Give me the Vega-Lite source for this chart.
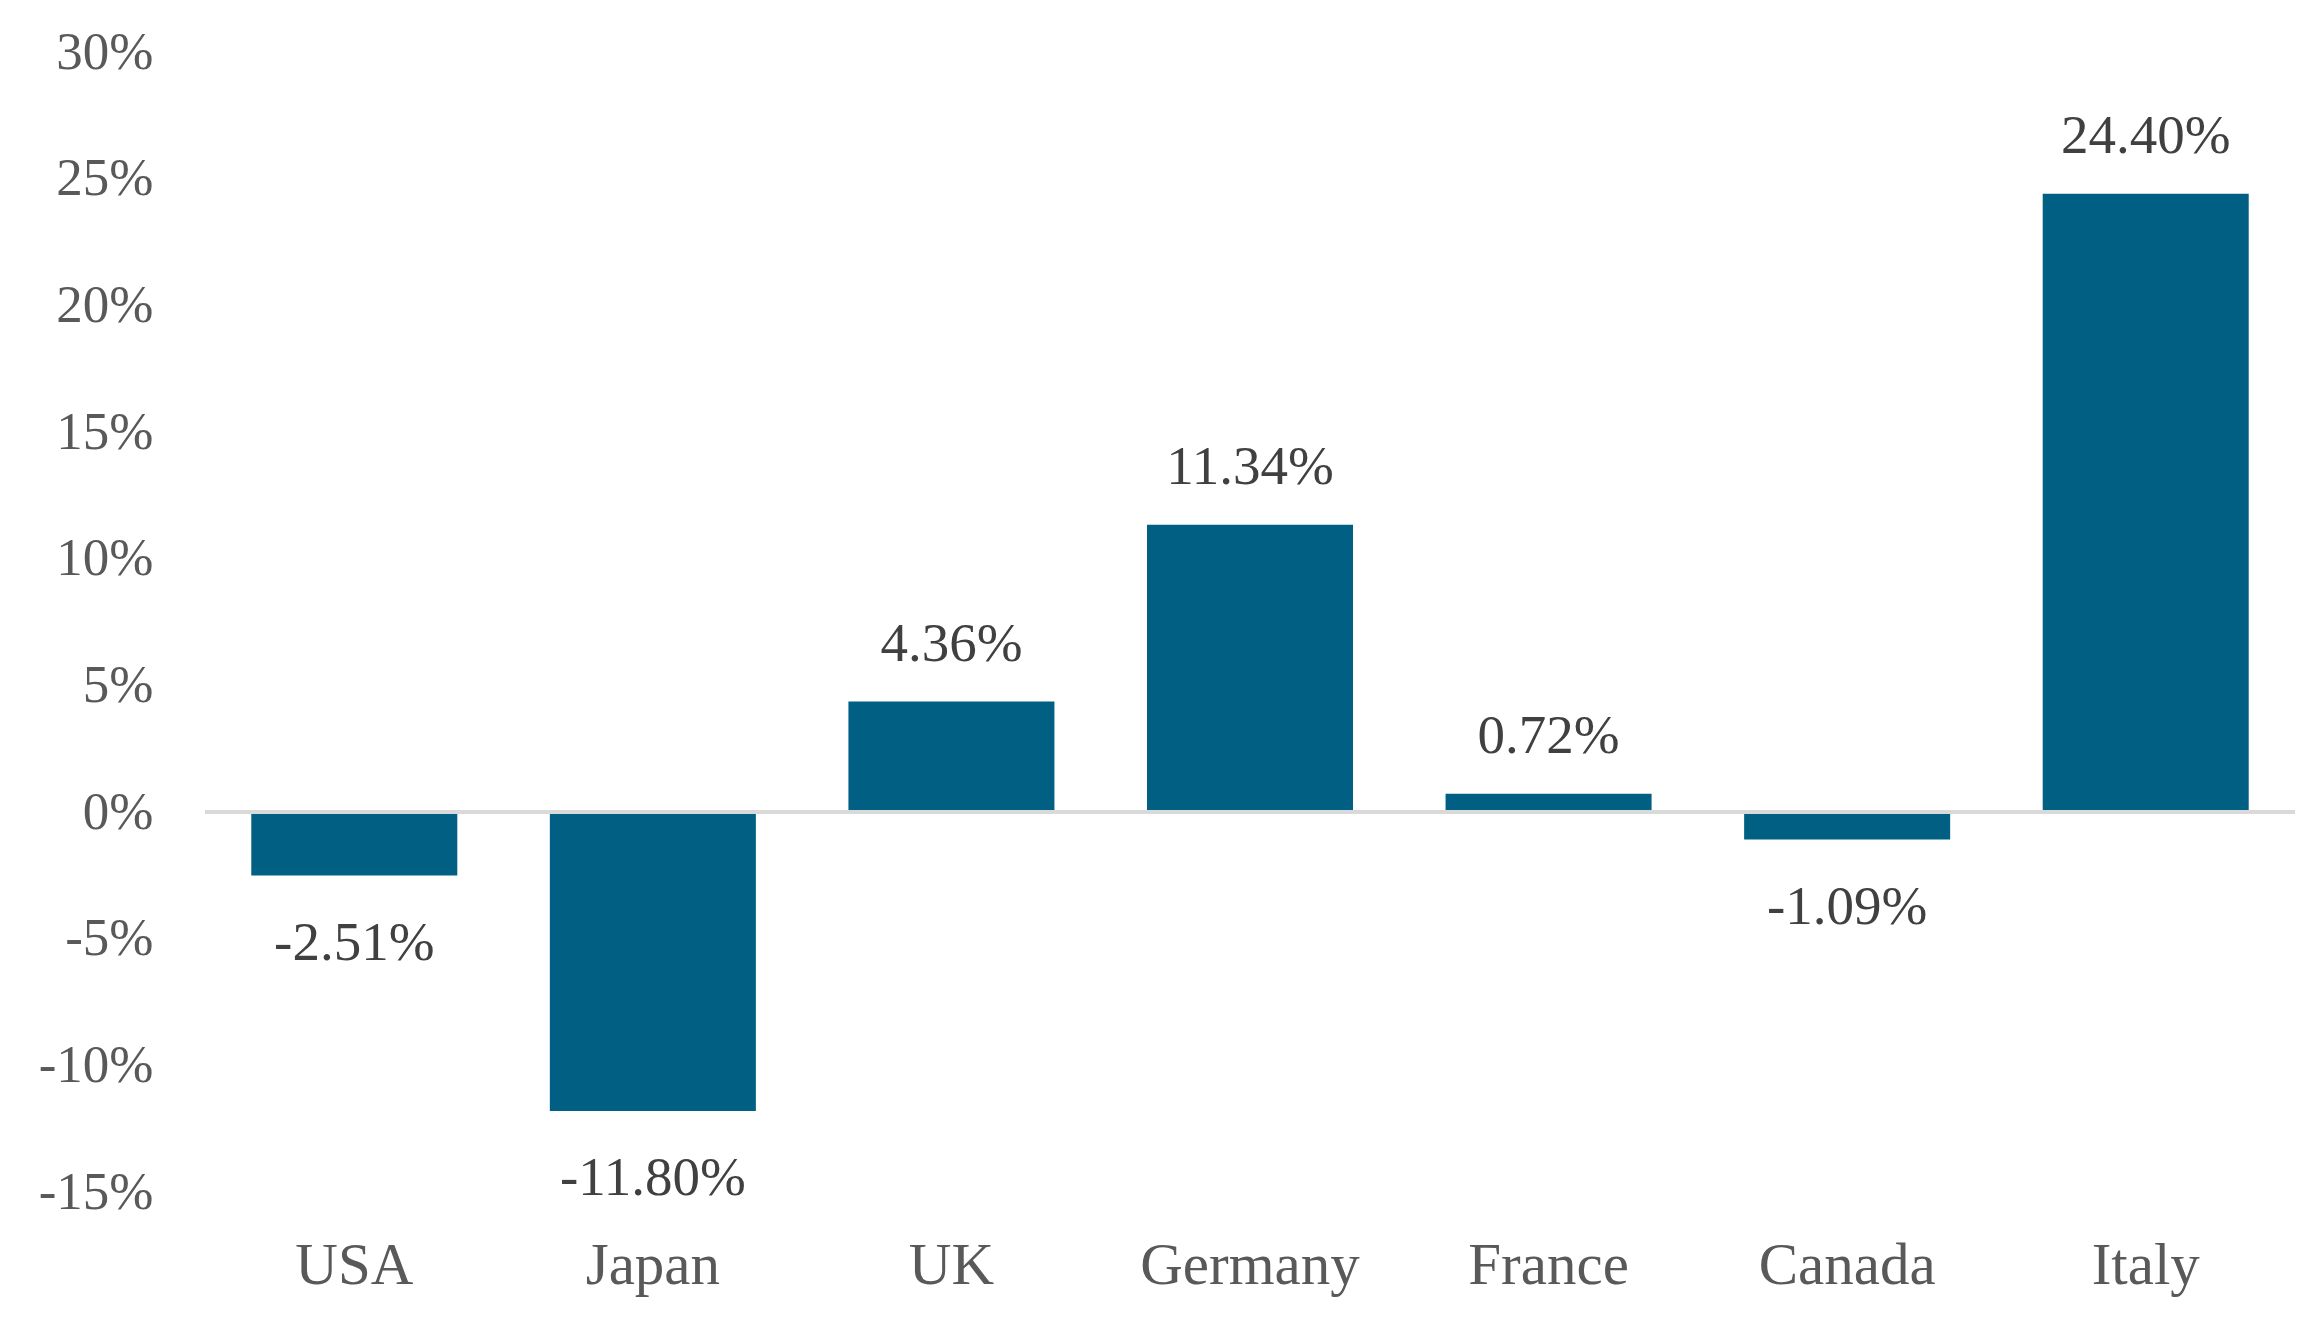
{
  "$schema": "https://vega.github.io/schema/vega-lite/v6.json",
  "autosize": "none",
  "width": 2090,
  "height": 1140,
  "padding": {"left": 205, "top": 52, "right": 17, "bottom": 128},
  "background": "white",
  "config": {
    "view": {"stroke": null},
    "font": "Liberation Serif",
    "locale": {
      "number": {"decimal": ".", "thousands": ",", "grouping": [3], "currency": ["$", ""], "minus": "-"}
    }
  },
  "data": {
    "values": [
      {"country": "USA", "change": -0.0251},
      {"country": "Japan", "change": -0.118},
      {"country": "UK", "change": 0.0436},
      {"country": "Germany", "change": 0.1134},
      {"country": "France", "change": 0.0072},
      {"country": "Canada", "change": -0.0109},
      {"country": "Italy", "change": 0.244}
    ]
  },
  "encoding": {
    "x": {
      "field": "country",
      "type": "nominal",
      "sort": null,
      "title": null,
      "scale": {"paddingInner": 0.31, "paddingOuter": 0.155},
      "axis": {
        "domain": false,
        "ticks": false,
        "labelAngle": 0,
        "labelLimit": 400,
        "labelFont": "Liberation Serif",
        "labelFontSize": 59,
        "labelColor": "#595959",
        "labelPadding": 44
      }
    },
    "y": {
      "field": "change",
      "type": "quantitative",
      "title": null,
      "scale": {"domain": [-0.15, 0.3], "nice": false, "zero": false},
      "axis": {
        "values": [-0.15, -0.1, -0.05, 0, 0.05, 0.1, 0.15, 0.2, 0.25, 0.3],
        "format": ".0%",
        "grid": false,
        "domain": false,
        "ticks": false,
        "labelFont": "Liberation Serif",
        "labelFontSize": 53,
        "labelColor": "#595959",
        "labelPadding": 52
      }
    }
  },
  "layer": [
    {
      "mark": {"type": "bar", "color": "#005F83"}
    },
    {
      "mark": {"type": "rule", "color": "#D9D9D9", "strokeWidth": 4},
      "encoding": {
        "x": {"value": 0},
        "x2": {"value": 2090},
        "y": {"datum": 0}
      }
    },
    {
      "transform": [{"filter": "datum.change >= 0"}],
      "mark": {"type": "text", "baseline": "middle", "dy": -58, "fontSize": 55, "color": "#404040", "font": "Liberation Serif"},
      "encoding": {
        "text": {"field": "change", "type": "quantitative", "format": ".2%"}
      }
    },
    {
      "transform": [{"filter": "datum.change < 0"}],
      "mark": {"type": "text", "baseline": "middle", "dy": 67, "fontSize": 55, "color": "#404040", "font": "Liberation Serif"},
      "encoding": {
        "text": {"field": "change", "type": "quantitative", "format": ".2%"}
      }
    }
  ]
}
